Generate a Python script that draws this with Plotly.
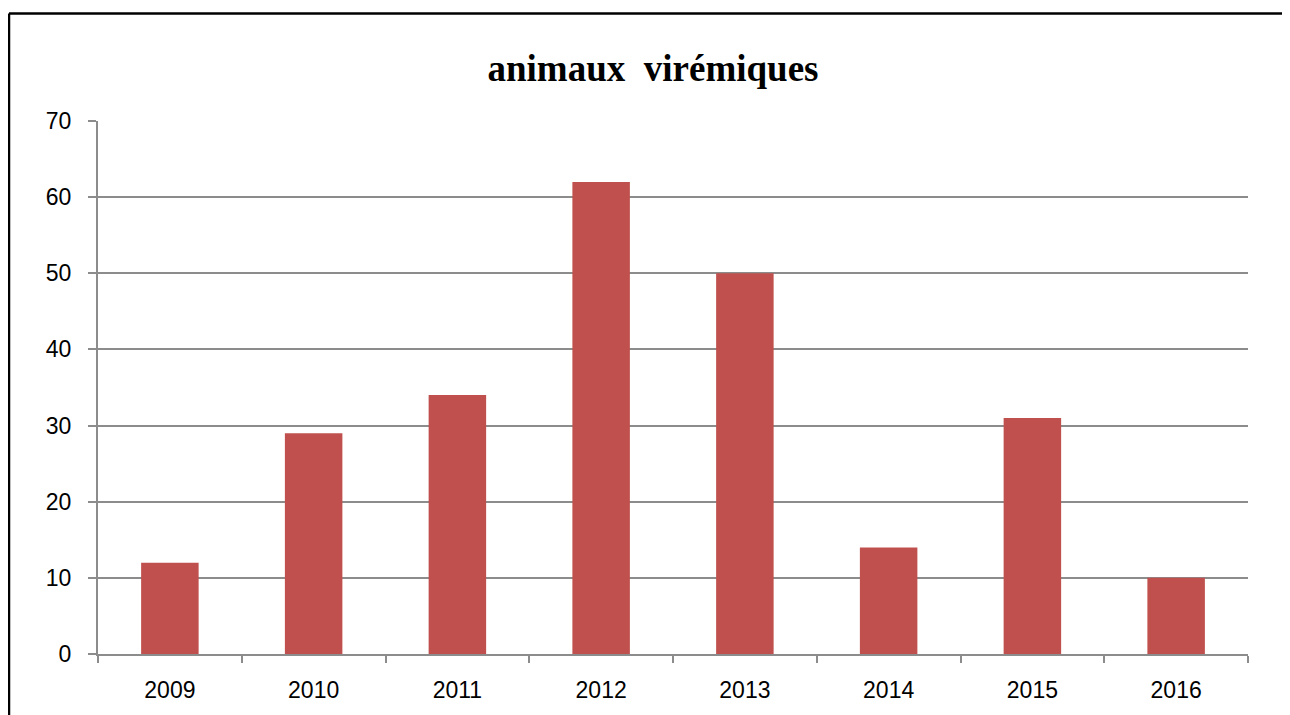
import plotly.graph_objects as go

years = ["2009", "2010", "2011", "2012", "2013", "2014", "2015", "2016"]
values = [12, 29, 34, 62, 50, 14, 31, 10]
title_text = "animaux  virémiques"

OFF = 8  # default page body margin
W, H = 1290 - OFF, 715 - OFF
L, R, T, B = 98 - OFF, 42, 121 - OFF, 59
pw, ph = W - L - R, H - T - B

fig = go.Figure(go.Bar(x=years, y=values, marker_color="#C0504D", marker_line_width=0))

grid = "#8C8C8C"
fig.update_layout(
    width=W, height=H,
    margin=dict(l=L, r=R, t=T, b=B),
    paper_bgcolor="white", plot_bgcolor="white",
    bargap=0.6,
    showlegend=False,
    title=dict(text="<b>" + title_text + "</b>", x=(653 - OFF) / W, xref="container", xanchor="center",
               y=1 - (68 - OFF) / H, yref="container", yanchor="middle",
               font=dict(family="Liberation Serif", size=37, color="black")),
    font=dict(family="Liberation Sans", size=23, color="black"),
)
fig.update_xaxes(type="category", tickson="boundaries", ticks="outside", ticklen=7, tickwidth=2,
                 tickcolor=grid, showline=True, linecolor=grid, linewidth=2, showgrid=False,
                 tickfont=dict(size=23), ticklabelstandoff=14, fixedrange=True)
fig.update_yaxes(range=[0, 70], dtick=10, ticks="outside", ticklen=8, tickwidth=2, tickcolor=grid,
                 showline=True, linecolor=grid, linewidth=2, showgrid=True, gridcolor=grid, gridwidth=2,
                 zeroline=False, tickfont=dict(size=23), ticklabelstandoff=12, fixedrange=True)

# outer chart frame (top and left edges visible in reference)
fx0 = (9 - 98) / pw
fy1 = 1 + (121 - 13) / ph
fig.add_shape(type="line", xref="paper", yref="paper", x0=fx0, x1=1.2, y0=fy1, y1=fy1,
              line=dict(color="black", width=2.5))
fig.add_shape(type="line", xref="paper", yref="paper", x0=fx0, x1=fx0, y0=-0.3, y1=fy1,
              line=dict(color="black", width=2.5))

fig.write_html("out.html")
